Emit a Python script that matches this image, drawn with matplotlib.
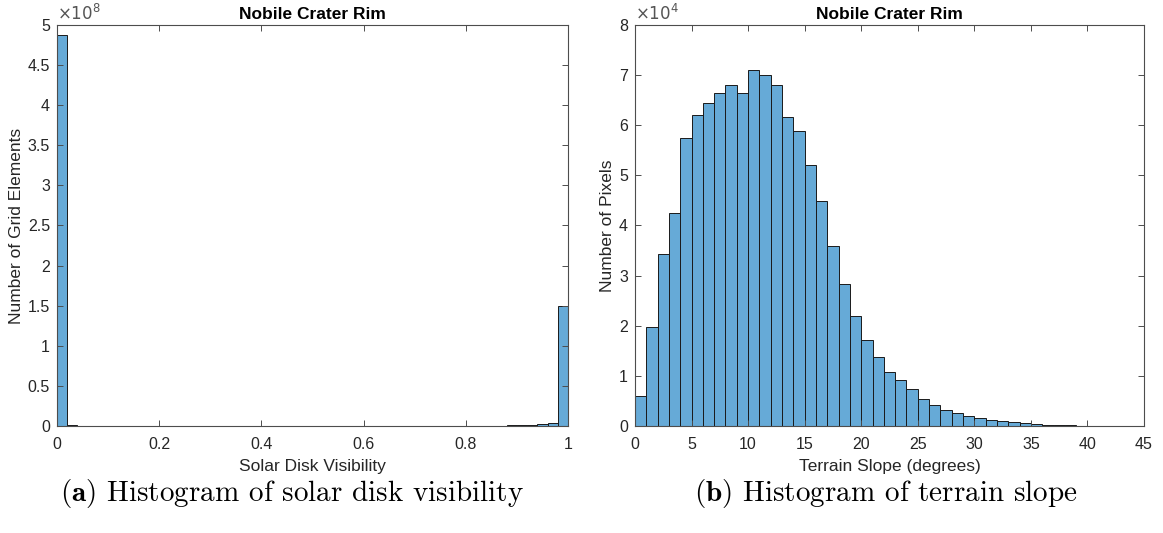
"""Two MATLAB-style histograms for the Nobile crater rim: solar disk visibility and terrain slope."""
import matplotlib
matplotlib.use("Agg")
import matplotlib.pyplot as plt
import numpy as np
from matplotlib.ticker import FuncFormatter, MultipleLocator

plt.rcParams["font.family"] = ["Liberation Sans", "DejaVu Sans"]
plt.rcParams["mathtext.fontset"] = "cm"

# Panel (a): solar disk visibility, 50 bins of width 0.02, counts in units of 1e8
vis_edges = np.linspace(0.0, 1.0, 51)
vis_counts_e8 = [
    4.87, 0.012, 0.004, 0.003, 0.003, 0.002, 0.002, 0.002, 0.002, 0.002,
    0.002, 0.002, 0.002, 0.002, 0.002, 0.002, 0.002, 0.002, 0.002, 0.002,
    0.002, 0.002, 0.002, 0.002, 0.002, 0.002, 0.002, 0.002, 0.002, 0.002,
    0.002, 0.002, 0.002, 0.002, 0.002, 0.002, 0.002, 0.002, 0.002, 0.003,
    0.003, 0.004, 0.004, 0.005, 0.006, 0.015, 0.018, 0.02, 0.04, 1.49,
]

# Panel (b): terrain slope, 1-degree bins 0..43, counts in units of 1e4
slope_edges = np.arange(0, 44)
slope_counts_e4 = [
    0.60, 1.97, 3.44, 4.25, 5.75, 6.21, 6.44, 6.65, 6.81, 6.65,
    7.10, 7.00, 6.81, 6.17, 5.89, 5.21, 4.48, 3.60, 2.84, 2.20,
    1.72, 1.37, 1.07, 0.92, 0.735, 0.54, 0.41, 0.32, 0.25, 0.19,
    0.15, 0.11, 0.09, 0.07, 0.05, 0.035, 0.025, 0.018, 0.01, 0.006,
    0.004, 0.003, 0.002,
]

BAR = "#66aad7"
AX = "#4d4d4d"
TXT = "#262626"


def matlab_axes(ax):
    for s in ax.spines.values():
        s.set_color(AX)
        s.set_linewidth(0.8)
    ax.tick_params(direction="in", top=True, right=True, length=4, width=0.7,
                   colors=AX, labelcolor=TXT, labelsize=11.5)
    ax.tick_params(axis="x", pad=8)
    ax.tick_params(axis="y", pad=5)


def hist(ax, edges, counts):
    edges = np.asarray(edges, dtype=float)
    ax.bar(edges[:-1], counts, width=np.diff(edges), align="edge",
           color=BAR, edgecolor="#1a1a1a", linewidth=0.7)


def exponent(ax, n):
    ax.text(0.0, 1.004, r"$\times10^{%d}$" % n, transform=ax.transAxes, fontsize=12,
            color="#555555", ha="left", va="bottom", math_fontfamily="dejavusans")


fig = plt.figure(figsize=(11.63, 5.33), dpi=100)
axA = fig.add_axes([0.049, 0.2008, 0.4394, 0.7523])
axB = fig.add_axes([0.546, 0.2008, 0.4377, 0.7523])

# (a)
hist(axA, vis_edges, np.array(vis_counts_e8) * 1e8)
axA.set_xlim(0, 1)
axA.set_ylim(0, 5e8)
axA.xaxis.set_major_locator(MultipleLocator(0.2))
axA.yaxis.set_major_locator(MultipleLocator(0.5e8))
axA.xaxis.set_major_formatter(FuncFormatter(lambda v, p: f"{v:g}"))
axA.yaxis.set_major_formatter(FuncFormatter(lambda v, p: f"{v / 1e8:g}"))
exponent(axA, 8)
axA.set_title("Nobile Crater Rim", fontsize=12.5, fontweight="bold", pad=4)
axA.set_xlabel("Solar Disk Visibility", fontsize=12.5, color=TXT, labelpad=5)
axA.set_ylabel("Number of Grid Elements", fontsize=12.5, color=TXT, labelpad=3)
matlab_axes(axA)

# (b)
hist(axB, slope_edges, np.array(slope_counts_e4) * 1e4)
axB.set_xlim(0, 45)
axB.set_ylim(0, 8e4)
axB.xaxis.set_major_locator(MultipleLocator(5))
axB.yaxis.set_major_locator(MultipleLocator(1e4))
axB.yaxis.set_major_formatter(FuncFormatter(lambda v, p: f"{v / 1e4:g}"))
exponent(axB, 4)
axB.set_title("Nobile Crater Rim", fontsize=12.5, fontweight="bold", pad=4)
axB.set_xlabel("Terrain Slope (degrees)", fontsize=12.5, color=TXT, labelpad=5)
axB.set_ylabel("Number of Pixels", fontsize=12.5, color=TXT, labelpad=3)
matlab_axes(axB)

# subfigure captions
cap = dict(fontsize=21, family="cmr10", ha="center", va="center")
fig.text(292 / 1163, 1 - 494 / 533, r"$\mathbf{(a)}$ Histogram of solar disk visibility", **cap)
fig.text(886 / 1163, 1 - 494 / 533, r"$\mathbf{(b)}$ Histogram of terrain slope", **cap)

fig.savefig("out.png", dpi=100)
